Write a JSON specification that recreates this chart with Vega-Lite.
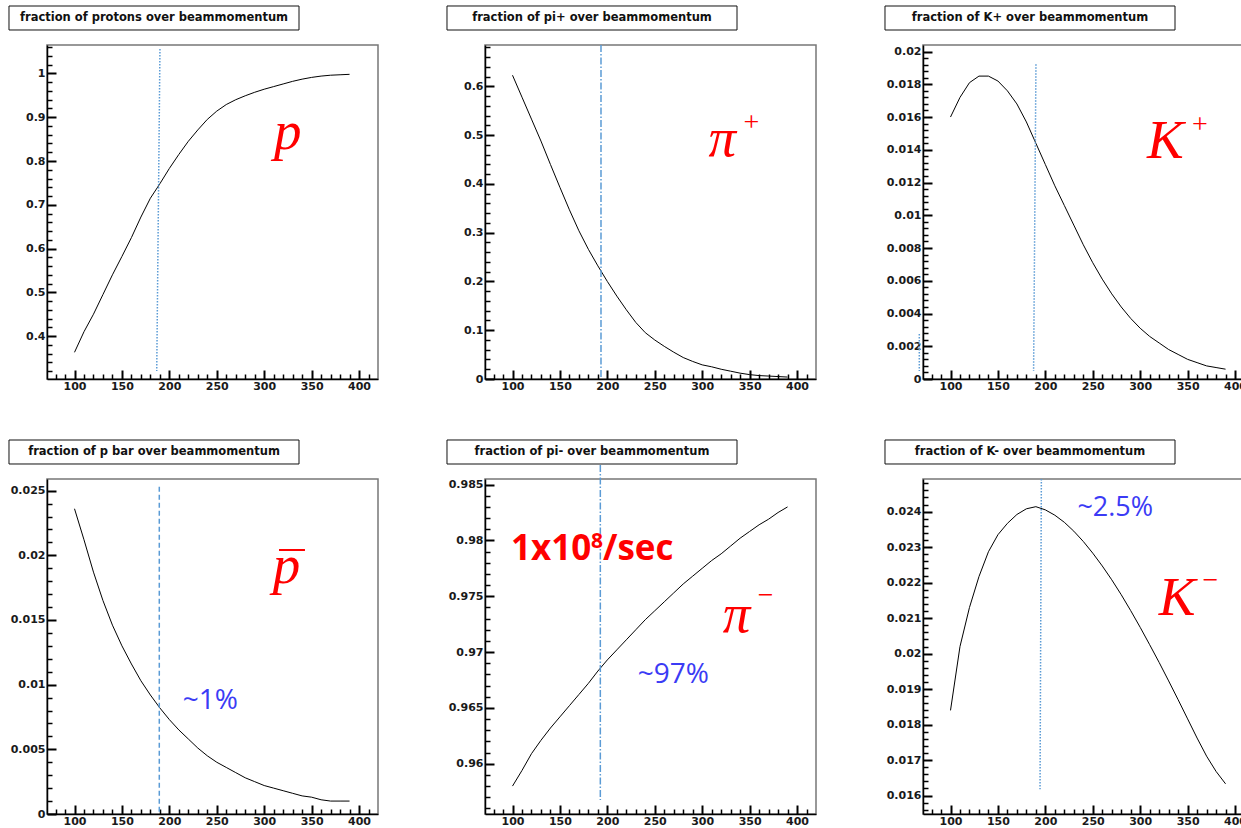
{
  "$schema": "https://vega.github.io/schema/vega-lite/v6.json",
  "padding": {"left": 7, "top": 4, "right": 0, "bottom": 0},
  "background": "white",
  "config": {
    "view": {"stroke": "#777", "strokeWidth": 1.5},
    "axis": {"grid": false}
  },
  "spacing": 46,
  "vconcat": [
    {
      "spacing": 66,
      "hconcat": [
        {
          "width": 331, "height": 334,
          "resolve": {"axis": {"x": "independent", "y": "independent"}},
          "layer": [
            {
              "data": {"values": [{"t": "fraction of protons over beammomentum", "x1": 30.93, "x2": 336.71, "xc": 183.82, "y1": 1.15409, "y2": 1.09927, "yc": 1.12668}]},
              "layer": [
                {"mark": {"type": "rect", "fill": "white", "stroke": "#111", "strokeWidth": 1, "clip": false},
                 "encoding": {"x": {"field": "x1", "type": "quantitative", "axis": null}, "x2": {"field": "x2"}, "y": {"field": "y1", "type": "quantitative", "axis": null}, "y2": {"field": "y2"}}},
                {"mark": {"type": "text", "font": "DejaVu Sans", "fontWeight": "bold", "fontSize": 11.5, "color": "#111", "clip": false},
                 "encoding": {"x": {"field": "xc", "type": "quantitative", "axis": null}, "y": {"field": "yc", "type": "quantitative", "axis": null}, "text": {"field": "t"}}}
              ]
            },
            {
              "data": {"values": [
                {"p":100,"f":0.363},{"p":110,"f":0.41},{"p":120,"f":0.45},{"p":130,"f":0.495},{"p":140,"f":0.54},
                {"p":150,"f":0.582},{"p":160,"f":0.625},{"p":170,"f":0.672},{"p":180,"f":0.715},{"p":190,"f":0.748},
                {"p":200,"f":0.783},{"p":210,"f":0.815},{"p":220,"f":0.845},{"p":230,"f":0.871},{"p":240,"f":0.895},
                {"p":250,"f":0.914},{"p":260,"f":0.929},{"p":270,"f":0.940},{"p":280,"f":0.949},{"p":290,"f":0.957},
                {"p":300,"f":0.964},{"p":310,"f":0.970},{"p":320,"f":0.976},{"p":330,"f":0.982},{"p":340,"f":0.987},
                {"p":350,"f":0.991},{"p":360,"f":0.994},{"p":370,"f":0.996},{"p":380,"f":0.997},{"p":390,"f":0.998}
              ]},
              "mark": {"type": "line", "color": "#000", "strokeWidth": 1},
              "encoding": {
                "x": {"field": "p", "type": "quantitative", "scale": {"domain": [71, 420], "nice": false, "zero": false},
                  "axis": {"orient": "bottom", "offset": -9, "values": [100,150,200,250,300,350,400], "title": null, "domain": false, "tickColor": "#000", "tickWidth": 2, "tickSize": 9, "labelPadding": 1, "labelFont": "DejaVu Sans", "labelFontWeight": "bold", "labelFontSize": 11, "labelColor": "#1a1a1a", "labelFlush": false, "labelOverlap": false}},
                "y": {"field": "f", "type": "quantitative", "scale": {"domain": [0.302, 1.065], "nice": false, "zero": false},
                  "axis": {"orient": "left", "offset": -9, "values": [0.4,0.5,0.6,0.7,0.8,0.9,1], "format": "~g", "title": null, "domain": false, "tickColor": "#000", "tickWidth": 2, "tickSize": 9, "labelPadding": 2, "labelFont": "DejaVu Sans", "labelFontWeight": "bold", "labelFontSize": 11, "labelColor": "#1a1a1a", "labelFlush": false, "labelOverlap": false, "minExtent": 46, "maxExtent": 46}}
              }
            },
            {
              "data": {"values": [{"x1": 190.1, "x2": 186.7, "y1": 1.0559, "y2": 0.3203}]},
              "mark": {"type": "rule", "color": "#5b9bd5", "strokeWidth": 1.5, "strokeDash": [1.5, 1.5], "clip": false},
              "encoding": {
                "x": {"field": "x1", "type": "quantitative", "axis": {"orient": "bottom", "offset": -5, "values": [80,90,110,120,130,140,160,170,180,190,210,220,230,240,260,270,280,290,310,320,330,340,360,370,380,390,410], "title": null, "domain": false, "labels": false, "tickColor": "#000", "tickWidth": 1.5, "tickSize": 5}},
                "x2": {"field": "x2"},
                "y": {"field": "y1", "type": "quantitative", "axis": {"orient": "left", "offset": -5, "values": [0.32,0.34,0.36,0.38,0.42,0.44,0.46,0.48,0.52,0.54,0.56,0.58,0.62,0.64,0.66,0.68,0.72,0.74,0.76,0.78,0.82,0.84,0.86,0.88,0.92,0.94,0.96,0.98,1.02,1.04,1.06], "title": null, "domain": false, "labels": false, "tickColor": "#000", "tickWidth": 1.5, "tickSize": 5, "minExtent": 0, "maxExtent": 0}},
                "y2": {"field": "y2"}
              }
            },
            {
              "data": {"values": [{"t": "p", "x": 310.4, "y": 0.8274}]},
              "mark": {"type": "text", "font": "Liberation Serif", "fontStyle": "italic", "fontSize": 55, "color": "#ff0000", "align": "left", "baseline": "alphabetic"},
              "encoding": {
                "x": {"field": "x", "type": "quantitative", "axis": {"orient": "bottom", "title": null, "ticks": false, "labels": false, "domainColor": "#000", "domainWidth": 1.5}},
                "y": {"field": "y", "type": "quantitative", "axis": {"orient": "left", "title": null, "ticks": false, "labels": false, "domainColor": "#000", "domainWidth": 1.5, "minExtent": 0, "maxExtent": 0}},
                "text": {"field": "t"}}
            }
          ]
        },
        {
          "width": 331, "height": 334,
          "resolve": {"axis": {"x": "independent", "y": "independent"}},
          "layer": [
            {
              "data": {"values": [{"t": "fraction of pi+ over beammomentum", "x1": 30.93, "x2": 336.71, "xc": 183.82, "y1": 0.76499, "y2": 0.71576, "yc": 0.74037}]},
              "layer": [
                {"mark": {"type": "rect", "fill": "white", "stroke": "#111", "strokeWidth": 1, "clip": false},
                 "encoding": {"x": {"field": "x1", "type": "quantitative", "axis": null}, "x2": {"field": "x2"}, "y": {"field": "y1", "type": "quantitative", "axis": null}, "y2": {"field": "y2"}}},
                {"mark": {"type": "text", "font": "DejaVu Sans", "fontWeight": "bold", "fontSize": 11.5, "color": "#111", "clip": false},
                 "encoding": {"x": {"field": "xc", "type": "quantitative", "axis": null}, "y": {"field": "yc", "type": "quantitative", "axis": null}, "text": {"field": "t"}}}
              ]
            },
            {
              "data": {"values": [
                {"p":100,"f":0.623},{"p":110,"f":0.578},{"p":120,"f":0.533},{"p":130,"f":0.488},{"p":140,"f":0.440},
                {"p":150,"f":0.393},{"p":160,"f":0.347},{"p":170,"f":0.304},{"p":180,"f":0.266},{"p":190,"f":0.232},
                {"p":200,"f":0.200},{"p":210,"f":0.170},{"p":220,"f":0.142},{"p":230,"f":0.116},{"p":240,"f":0.095},
                {"p":250,"f":0.080},{"p":260,"f":0.067},{"p":270,"f":0.055},{"p":280,"f":0.044},{"p":290,"f":0.036},
                {"p":300,"f":0.029},{"p":310,"f":0.025},{"p":320,"f":0.020},{"p":330,"f":0.016},{"p":340,"f":0.012},
                {"p":350,"f":0.009},{"p":360,"f":0.007},{"p":370,"f":0.006},{"p":380,"f":0.005},{"p":390,"f":0.004}
              ]},
              "mark": {"type": "line", "color": "#000", "strokeWidth": 1},
              "encoding": {
                "x": {"field": "p", "type": "quantitative", "scale": {"domain": [71, 420], "nice": false, "zero": false},
                  "axis": {"orient": "bottom", "offset": -9, "values": [100,150,200,250,300,350,400], "title": null, "domain": false, "tickColor": "#000", "tickWidth": 2, "tickSize": 9, "labelPadding": 1, "labelFont": "DejaVu Sans", "labelFontWeight": "bold", "labelFontSize": 11, "labelColor": "#1a1a1a", "labelFlush": false, "labelOverlap": false}},
                "y": {"field": "f", "type": "quantitative", "scale": {"domain": [0, 0.685], "nice": false, "zero": false},
                  "axis": {"orient": "left", "offset": -9, "values": [0,0.1,0.2,0.3,0.4,0.5,0.6], "format": "~g", "title": null, "domain": false, "tickColor": "#000", "tickWidth": 2, "tickSize": 9, "labelPadding": 2, "labelFont": "DejaVu Sans", "labelFontWeight": "bold", "labelFontSize": 11, "labelColor": "#1a1a1a", "labelFlush": false, "labelOverlap": false, "minExtent": 46, "maxExtent": 46}}
              }
            },
            {
              "data": {"values": [{"x1": 193.3, "x2": 193.3, "y1": 0.685, "y2": 0.002}]},
              "mark": {"type": "rule", "color": "#5b9bd5", "strokeWidth": 1.5, "strokeDash": [7, 2, 1.5, 2], "clip": false},
              "encoding": {
                "x": {"field": "x1", "type": "quantitative", "axis": {"orient": "bottom", "offset": -5, "values": [80,90,110,120,130,140,160,170,180,190,210,220,230,240,260,270,280,290,310,320,330,340,360,370,380,390,410], "title": null, "domain": false, "labels": false, "tickColor": "#000", "tickWidth": 1.5, "tickSize": 5}},
                "x2": {"field": "x2"},
                "y": {"field": "y1", "type": "quantitative", "axis": {"orient": "left", "offset": -5, "values": [0.02,0.04,0.06,0.08,0.12,0.14,0.16,0.18,0.22,0.24,0.26,0.28,0.32,0.34,0.36,0.38,0.42,0.44,0.46,0.48,0.52,0.54,0.56,0.58,0.62,0.64,0.66,0.68], "title": null, "domain": false, "labels": false, "tickColor": "#000", "tickWidth": 1.5, "tickSize": 5, "minExtent": 0, "maxExtent": 0}},
                "y2": {"field": "y2"}
              }
            },
            {
              "data": {"values": [{"t": "π", "x": 306.6, "y": 0.4574}]},
              "mark": {"type": "text", "font": "Liberation Serif", "fontStyle": "italic", "fontSize": 55, "color": "#ff0000", "align": "left", "baseline": "alphabetic"},
              "encoding": {
                "x": {"field": "x", "type": "quantitative", "axis": {"orient": "bottom", "title": null, "ticks": false, "labels": false, "domainColor": "#000", "domainWidth": 1.5}},
                "y": {"field": "y", "type": "quantitative", "axis": {"orient": "left", "title": null, "ticks": false, "labels": false, "domainColor": "#000", "domainWidth": 1.5, "minExtent": 0, "maxExtent": 0}},
                "text": {"field": "t"}}
            },
            {
              "data": {"values": [{"t": "+", "x": 343.5, "y": 0.5086}]},
              "mark": {"type": "text", "font": "Liberation Serif", "fontSize": 28, "color": "#ff0000", "align": "left", "baseline": "alphabetic"},
              "encoding": {"x": {"field": "x", "type": "quantitative", "axis": null}, "y": {"field": "y", "type": "quantitative", "axis": null}, "text": {"field": "t"}}
            }
          ]
        },
        {
          "width": 331, "height": 334,
          "resolve": {"axis": {"x": "independent", "y": "independent"}},
          "layer": [
            {
              "data": {"values": [{"t": "fraction of K+ over beammomentum", "x1": 30.93, "x2": 336.71, "xc": 183.82, "y1": 0.022782, "y2": 0.021316, "yc": 0.022049}]},
              "layer": [
                {"mark": {"type": "rect", "fill": "white", "stroke": "#111", "strokeWidth": 1, "clip": false},
                 "encoding": {"x": {"field": "x1", "type": "quantitative", "axis": null}, "x2": {"field": "x2"}, "y": {"field": "y1", "type": "quantitative", "axis": null}, "y2": {"field": "y2"}}},
                {"mark": {"type": "text", "font": "DejaVu Sans", "fontWeight": "bold", "fontSize": 11.5, "color": "#111", "clip": false},
                 "encoding": {"x": {"field": "xc", "type": "quantitative", "axis": null}, "y": {"field": "yc", "type": "quantitative", "axis": null}, "text": {"field": "t"}}}
              ]
            },
            {
              "data": {"values": [
                {"p":100,"f":0.0160},{"p":110,"f":0.0172},{"p":120,"f":0.0181},{"p":130,"f":0.0185},{"p":140,"f":0.0185},
                {"p":150,"f":0.0182},{"p":160,"f":0.0176},{"p":170,"f":0.0168},{"p":180,"f":0.0157},{"p":190,"f":0.0144},
                {"p":200,"f":0.0131},{"p":210,"f":0.0118},{"p":220,"f":0.0106},{"p":230,"f":0.0094},{"p":240,"f":0.0082},
                {"p":250,"f":0.0071},{"p":260,"f":0.0061},{"p":270,"f":0.0052},{"p":280,"f":0.0044},{"p":290,"f":0.0037},
                {"p":300,"f":0.0031},{"p":310,"f":0.0026},{"p":320,"f":0.0022},{"p":330,"f":0.0018},{"p":340,"f":0.0015},
                {"p":350,"f":0.0012},{"p":360,"f":0.0010},{"p":370,"f":0.0008},{"p":380,"f":0.0007},{"p":390,"f":0.0006}
              ]},
              "mark": {"type": "line", "color": "#000", "strokeWidth": 1},
              "encoding": {
                "x": {"field": "p", "type": "quantitative", "scale": {"domain": [71, 420], "nice": false, "zero": false},
                  "axis": {"orient": "bottom", "offset": -9, "values": [100,150,200,250,300,350,400], "title": null, "domain": false, "tickColor": "#000", "tickWidth": 2, "tickSize": 9, "labelPadding": 1, "labelFont": "DejaVu Sans", "labelFontWeight": "bold", "labelFontSize": 11, "labelColor": "#1a1a1a", "labelFlush": false, "labelOverlap": false}},
                "y": {"field": "f", "type": "quantitative", "scale": {"domain": [0, 0.0204], "nice": false, "zero": false},
                  "axis": {"orient": "left", "offset": -9, "values": [0,0.002,0.004,0.006,0.008,0.01,0.012,0.014,0.016,0.018,0.02], "format": "~g", "title": null, "domain": false, "tickColor": "#000", "tickWidth": 2, "tickSize": 9, "labelPadding": 2, "labelFont": "DejaVu Sans", "labelFontWeight": "bold", "labelFontSize": 11, "labelColor": "#1a1a1a", "labelFlush": false, "labelOverlap": false, "minExtent": 46, "maxExtent": 46}}
              }
            },
            {
              "data": {"values": [{"x1": 190.1, "x2": 187.6, "y1": 0.01922, "y2": 0.00049}, {"x1": 67.1, "x2": 67.1, "y1": 0.00275, "y2": 0.00049}]},
              "mark": {"type": "rule", "color": "#5b9bd5", "strokeWidth": 1.5, "strokeDash": [1.5, 1.5], "clip": false},
              "encoding": {
                "x": {"field": "x1", "type": "quantitative", "axis": {"orient": "bottom", "offset": -5, "values": [80,90,110,120,130,140,160,170,180,190,210,220,230,240,260,270,280,290,310,320,330,340,360,370,380,390,410], "title": null, "domain": false, "labels": false, "tickColor": "#000", "tickWidth": 1.5, "tickSize": 5}},
                "x2": {"field": "x2"},
                "y": {"field": "y1", "type": "quantitative", "axis": {"orient": "left", "offset": -5, "values": [0.0004,0.0008,0.0012,0.0016,0.0024,0.0028,0.0032,0.0036,0.0044,0.0048,0.0052,0.0056,0.0064,0.0068,0.0072,0.0076,0.0084,0.0088,0.0092,0.0096,0.0104,0.0108,0.0112,0.0116,0.0124,0.0128,0.0132,0.0136,0.0144,0.0148,0.0152,0.0156,0.0164,0.0168,0.0172,0.0176,0.0184,0.0188,0.0192,0.0196], "title": null, "domain": false, "labels": false, "tickColor": "#000", "tickWidth": 1.5, "tickSize": 5, "minExtent": 0, "maxExtent": 0}},
                "y2": {"field": "y2"}
              }
            },
            {
              "data": {"values": [{"t": "K", "x": 307.2, "y": 0.013517}]},
              "mark": {"type": "text", "font": "Liberation Serif", "fontStyle": "italic", "fontSize": 55, "color": "#ff0000", "align": "left", "baseline": "alphabetic"},
              "encoding": {
                "x": {"field": "x", "type": "quantitative", "axis": {"orient": "bottom", "title": null, "ticks": false, "labels": false, "domainColor": "#000", "domainWidth": 1.5}},
                "y": {"field": "y", "type": "quantitative", "axis": {"orient": "left", "title": null, "ticks": false, "labels": false, "domainColor": "#000", "domainWidth": 1.5, "minExtent": 0, "maxExtent": 0}},
                "text": {"field": "t"}}
            },
            {
              "data": {"values": [{"t": "+", "x": 354.6, "y": 0.015025}]},
              "mark": {"type": "text", "font": "Liberation Serif", "fontSize": 28, "color": "#ff0000", "align": "left", "baseline": "alphabetic"},
              "encoding": {"x": {"field": "x", "type": "quantitative", "axis": null}, "y": {"field": "y", "type": "quantitative", "axis": null}, "text": {"field": "t"}}
            }
          ]
        }
      ]
    },
    {
      "spacing": 66,
      "hconcat": [
        {
          "width": 331, "height": 335,
          "resolve": {"axis": {"x": "independent", "y": "independent"}},
          "layer": [
            {
              "data": {"values": [{"t": "fraction of p bar over beammomentum", "x1": 30.93, "x2": 336.71, "xc": 183.82, "y1": 0.028915, "y2": 0.02706, "yc": 0.027987}]},
              "layer": [
                {"mark": {"type": "rect", "fill": "white", "stroke": "#111", "strokeWidth": 1, "clip": false},
                 "encoding": {"x": {"field": "x1", "type": "quantitative", "axis": null}, "x2": {"field": "x2"}, "y": {"field": "y1", "type": "quantitative", "axis": null}, "y2": {"field": "y2"}}},
                {"mark": {"type": "text", "font": "DejaVu Sans", "fontWeight": "bold", "fontSize": 11.5, "color": "#111", "clip": false},
                 "encoding": {"x": {"field": "xc", "type": "quantitative", "axis": null}, "y": {"field": "yc", "type": "quantitative", "axis": null}, "text": {"field": "t"}}}
              ]
            },
            {
              "data": {"values": [
                {"p":100,"f":0.0236},{"p":110,"f":0.0212},{"p":120,"f":0.0187},{"p":130,"f":0.0165},{"p":140,"f":0.0146},
                {"p":150,"f":0.0130},{"p":160,"f":0.0116},{"p":170,"f":0.0103},{"p":180,"f":0.0092},{"p":190,"f":0.0082},
                {"p":200,"f":0.0073},{"p":210,"f":0.0065},{"p":220,"f":0.0058},{"p":230,"f":0.0051},{"p":240,"f":0.0045},
                {"p":250,"f":0.0040},{"p":260,"f":0.0036},{"p":270,"f":0.0032},{"p":280,"f":0.0028},{"p":290,"f":0.0025},
                {"p":300,"f":0.0022},{"p":310,"f":0.0020},{"p":320,"f":0.0018},{"p":330,"f":0.0016},{"p":340,"f":0.0014},
                {"p":350,"f":0.0013},{"p":360,"f":0.0011},{"p":370,"f":0.0010},{"p":380,"f":0.0010},{"p":390,"f":0.0010}
              ]},
              "mark": {"type": "line", "color": "#000", "strokeWidth": 1},
              "encoding": {
                "x": {"field": "p", "type": "quantitative", "scale": {"domain": [71, 420], "nice": false, "zero": false},
                  "axis": {"orient": "bottom", "offset": -9, "values": [100,150,200,250,300,350,400], "title": null, "domain": false, "tickColor": "#000", "tickWidth": 2, "tickSize": 9, "labelPadding": 1, "labelFont": "DejaVu Sans", "labelFontWeight": "bold", "labelFontSize": 11, "labelColor": "#1a1a1a", "labelFlush": false, "labelOverlap": false}},
                "y": {"field": "f", "type": "quantitative", "scale": {"domain": [0, 0.0259], "nice": false, "zero": false},
                  "axis": {"orient": "left", "offset": -9, "values": [0,0.005,0.01,0.015,0.02,0.025], "format": "~g", "title": null, "domain": false, "tickColor": "#000", "tickWidth": 2, "tickSize": 9, "labelPadding": 2, "labelFont": "DejaVu Sans", "labelFontWeight": "bold", "labelFontSize": 11, "labelColor": "#1a1a1a", "labelFlush": false, "labelOverlap": false, "minExtent": 46, "maxExtent": 46}}
              }
            },
            {
              "data": {"values": [{"x1": 189.4, "x2": 189.4, "y1": 0.025305, "y2": 0}]},
              "mark": {"type": "rule", "color": "#5b9bd5", "strokeWidth": 1.5, "strokeDash": [5, 3], "clip": false},
              "encoding": {
                "x": {"field": "x1", "type": "quantitative", "axis": {"orient": "bottom", "offset": -5, "values": [80,90,110,120,130,140,160,170,180,190,210,220,230,240,260,270,280,290,310,320,330,340,360,370,380,390,410], "title": null, "domain": false, "labels": false, "tickColor": "#000", "tickWidth": 1.5, "tickSize": 5}},
                "x2": {"field": "x2"},
                "y": {"field": "y1", "type": "quantitative", "axis": {"orient": "left", "offset": -5, "values": [0.001,0.002,0.003,0.004,0.006,0.007,0.008,0.009,0.011,0.012,0.013,0.014,0.016,0.017,0.018,0.019,0.021,0.022,0.023,0.024], "title": null, "domain": false, "labels": false, "tickColor": "#000", "tickWidth": 1.5, "tickSize": 5, "minExtent": 0, "maxExtent": 0}},
                "y2": {"field": "y2"}
              }
            },
            {
              "data": {"values": [{"x1": 315.6, "x2": 343.0, "y1": 0.02041}]},
              "mark": {"type": "rule", "color": "#ff0000", "strokeWidth": 2},
              "encoding": {"x": {"field": "x1", "type": "quantitative", "axis": null}, "x2": {"field": "x2"}, "y": {"field": "y1", "type": "quantitative", "axis": null}}
            },
            {
              "data": {"values": [{"t": "p", "x": 309, "y": 0.017882}]},
              "mark": {"type": "text", "font": "Liberation Serif", "fontStyle": "italic", "fontSize": 55, "color": "#ff0000", "align": "left", "baseline": "alphabetic"},
              "encoding": {
                "x": {"field": "x", "type": "quantitative", "axis": {"orient": "bottom", "title": null, "ticks": false, "labels": false, "domainColor": "#000", "domainWidth": 1.5}},
                "y": {"field": "y", "type": "quantitative", "axis": {"orient": "left", "title": null, "ticks": false, "labels": false, "domainColor": "#000", "domainWidth": 1.5, "minExtent": 0, "maxExtent": 0}},
                "text": {"field": "t"}}
            },
            {
              "data": {"values": [{"t": "~1%", "x": 214.1, "y": 0.008094}]},
              "mark": {"type": "text", "font": "Open Sans", "fontSize": 28, "color": "#3b3bf5", "align": "left", "baseline": "alphabetic"},
              "encoding": {"x": {"field": "x", "type": "quantitative", "axis": null}, "y": {"field": "y", "type": "quantitative", "axis": null}, "text": {"field": "t"}}
            }
          ]
        },
        {
          "width": 331, "height": 335,
          "resolve": {"axis": {"x": "independent", "y": "independent"}},
          "layer": [
            {
              "data": {"values": [{"t": "fraction of pi- over beammomentum", "x1": 30.93, "x2": 336.71, "xc": 183.82, "y1": 0.988993, "y2": 0.986843, "yc": 0.987918}]},
              "layer": [
                {"mark": {"type": "rect", "fill": "white", "stroke": "#111", "strokeWidth": 1, "clip": false},
                 "encoding": {"x": {"field": "x1", "type": "quantitative", "axis": null}, "x2": {"field": "x2"}, "y": {"field": "y1", "type": "quantitative", "axis": null}, "y2": {"field": "y2"}}},
                {"mark": {"type": "text", "font": "DejaVu Sans", "fontWeight": "bold", "fontSize": 11.5, "color": "#111", "clip": false},
                 "encoding": {"x": {"field": "xc", "type": "quantitative", "axis": null}, "y": {"field": "yc", "type": "quantitative", "axis": null}, "text": {"field": "t"}}}
              ]
            },
            {
              "data": {"values": [
                {"p":100,"f":0.9580},{"p":110,"f":0.9594},{"p":120,"f":0.9609},{"p":130,"f":0.9621},{"p":140,"f":0.9632},
                {"p":150,"f":0.9642},{"p":160,"f":0.9652},{"p":170,"f":0.9662},{"p":180,"f":0.9672},{"p":190,"f":0.9683},
                {"p":200,"f":0.9693},{"p":210,"f":0.9702},{"p":220,"f":0.9711},{"p":230,"f":0.9720},{"p":240,"f":0.9729},
                {"p":250,"f":0.9737},{"p":260,"f":0.9745},{"p":270,"f":0.9753},{"p":280,"f":0.9761},{"p":290,"f":0.9768},
                {"p":300,"f":0.9775},{"p":310,"f":0.9782},{"p":320,"f":0.9788},{"p":330,"f":0.9795},{"p":340,"f":0.9802},
                {"p":350,"f":0.9808},{"p":360,"f":0.9814},{"p":370,"f":0.9819},{"p":380,"f":0.9825},{"p":390,"f":0.9830}
              ]},
              "mark": {"type": "line", "color": "#000", "strokeWidth": 1},
              "encoding": {
                "x": {"field": "p", "type": "quantitative", "scale": {"domain": [71, 420], "nice": false, "zero": false},
                  "axis": {"orient": "bottom", "offset": -9, "values": [100,150,200,250,300,350,400], "title": null, "domain": false, "tickColor": "#000", "tickWidth": 2, "tickSize": 9, "labelPadding": 1, "labelFont": "DejaVu Sans", "labelFontWeight": "bold", "labelFontSize": 11, "labelColor": "#1a1a1a", "labelFlush": false, "labelOverlap": false}},
                "y": {"field": "f", "type": "quantitative", "scale": {"domain": [0.9555, 0.9855], "nice": false, "zero": false},
                  "axis": {"orient": "left", "offset": -9, "values": [0.96,0.965,0.97,0.975,0.98,0.985], "format": "~g", "title": null, "domain": false, "tickColor": "#000", "tickWidth": 2, "tickSize": 9, "labelPadding": 2, "labelFont": "DejaVu Sans", "labelFontWeight": "bold", "labelFontSize": 11, "labelColor": "#1a1a1a", "labelFlush": false, "labelOverlap": false, "minExtent": 46, "maxExtent": 46}}
              }
            },
            {
              "data": {"values": [{"x1": 192.6, "x2": 192.6, "y1": 0.98675, "y2": 0.95675}]},
              "mark": {"type": "rule", "color": "#5b9bd5", "strokeWidth": 1.5, "strokeDash": [7, 2, 1.5, 2], "clip": false},
              "encoding": {
                "x": {"field": "x1", "type": "quantitative", "axis": {"orient": "bottom", "offset": -5, "values": [80,90,110,120,130,140,160,170,180,190,210,220,230,240,260,270,280,290,310,320,330,340,360,370,380,390,410], "title": null, "domain": false, "labels": false, "tickColor": "#000", "tickWidth": 1.5, "tickSize": 5}},
                "x2": {"field": "x2"},
                "y": {"field": "y1", "type": "quantitative", "axis": {"orient": "left", "offset": -5, "values": [0.956,0.957,0.958,0.959,0.961,0.962,0.963,0.964,0.966,0.967,0.968,0.969,0.971,0.972,0.973,0.974,0.976,0.977,0.978,0.979,0.981,0.982,0.983,0.984], "title": null, "domain": false, "labels": false, "tickColor": "#000", "tickWidth": 1.5, "tickSize": 5, "minExtent": 0, "maxExtent": 0}},
                "y2": {"field": "y2"}
              }
            },
            {
              "data": {"values": [{"t": "1x10", "x": 98.4, "y": 0.978246}, {"t": "/sec", "x": 195.4, "y": 0.978246}]},
              "mark": {"type": "text", "font": "Open Sans", "fontWeight": "bold", "fontSize": 35, "color": "#ff0000", "align": "left", "baseline": "alphabetic"},
              "encoding": {
                "x": {"field": "x", "type": "quantitative", "axis": {"orient": "bottom", "title": null, "ticks": false, "labels": false, "domainColor": "#000", "domainWidth": 1.5}},
                "y": {"field": "y", "type": "quantitative", "axis": {"orient": "left", "title": null, "ticks": false, "labels": false, "domainColor": "#000", "domainWidth": 1.5, "minExtent": 0, "maxExtent": 0}},
                "text": {"field": "t"}}
            },
            {
              "data": {"values": [{"t": "8", "x": 182.7, "y": 0.979294}]},
              "mark": {"type": "text", "font": "Open Sans", "fontWeight": "bold", "fontSize": 21, "color": "#ff0000", "align": "left", "baseline": "alphabetic"},
              "encoding": {"x": {"field": "x", "type": "quantitative", "axis": null}, "y": {"field": "y", "type": "quantitative", "axis": null}, "text": {"field": "t"}}
            },
            {
              "data": {"values": [{"t": "π", "x": 321.6, "y": 0.971825}]},
              "mark": {"type": "text", "font": "Liberation Serif", "fontStyle": "italic", "fontSize": 55, "color": "#ff0000", "align": "left", "baseline": "alphabetic"},
              "encoding": {"x": {"field": "x", "type": "quantitative", "axis": null}, "y": {"field": "y", "type": "quantitative", "axis": null}, "text": {"field": "t"}}
            },
            {
              "data": {"values": [{"t": "−", "x": 358.5, "y": 0.974306}]},
              "mark": {"type": "text", "font": "Liberation Serif", "fontSize": 28, "color": "#ff0000", "align": "left", "baseline": "alphabetic"},
              "encoding": {"x": {"field": "x", "type": "quantitative", "axis": null}, "y": {"field": "y", "type": "quantitative", "axis": null}, "text": {"field": "t"}}
            },
            {
              "data": {"values": [{"t": "~97%", "x": 232, "y": 0.967232}]},
              "mark": {"type": "text", "font": "Open Sans", "fontSize": 28, "color": "#3b3bf5", "align": "left", "baseline": "alphabetic"},
              "encoding": {"x": {"field": "x", "type": "quantitative", "axis": null}, "y": {"field": "y", "type": "quantitative", "axis": null}, "text": {"field": "t"}}
            }
          ]
        },
        {
          "width": 331, "height": 335,
          "resolve": {"axis": {"x": "independent", "y": "independent"}},
          "layer": [
            {
              "data": {"values": [{"t": "fraction of K- over beammomentum", "x1": 30.93, "x2": 336.71, "xc": 183.82, "y1": 0.026019, "y2": 0.025343, "yc": 0.025681}]},
              "layer": [
                {"mark": {"type": "rect", "fill": "white", "stroke": "#111", "strokeWidth": 1, "clip": false},
                 "encoding": {"x": {"field": "x1", "type": "quantitative", "axis": null}, "x2": {"field": "x2"}, "y": {"field": "y1", "type": "quantitative", "axis": null}, "y2": {"field": "y2"}}},
                {"mark": {"type": "text", "font": "DejaVu Sans", "fontWeight": "bold", "fontSize": 11.5, "color": "#111", "clip": false},
                 "encoding": {"x": {"field": "xc", "type": "quantitative", "axis": null}, "y": {"field": "yc", "type": "quantitative", "axis": null}, "text": {"field": "t"}}}
              ]
            },
            {
              "data": {"values": [
                {"p":100,"f":0.0184},{"p":110,"f":0.0202},{"p":120,"f":0.0213},{"p":130,"f":0.02217},{"p":140,"f":0.02287},
                {"p":150,"f":0.02335},{"p":160,"f":0.02367},{"p":170,"f":0.02392},{"p":180,"f":0.02408},{"p":190,"f":0.02414},
                {"p":200,"f":0.02405},{"p":210,"f":0.0239},{"p":220,"f":0.0237},{"p":230,"f":0.02345},{"p":240,"f":0.02316},
                {"p":250,"f":0.02283},{"p":260,"f":0.02247},{"p":270,"f":0.02208},{"p":280,"f":0.02166},{"p":290,"f":0.02121},
                {"p":300,"f":0.02074},{"p":310,"f":0.02025},{"p":320,"f":0.01975},{"p":330,"f":0.01923},{"p":340,"f":0.0187},
                {"p":350,"f":0.01816},{"p":360,"f":0.01762},{"p":370,"f":0.01711},{"p":380,"f":0.01668},{"p":390,"f":0.01633}
              ]},
              "mark": {"type": "line", "color": "#000", "strokeWidth": 1},
              "encoding": {
                "x": {"field": "p", "type": "quantitative", "scale": {"domain": [71, 420], "nice": false, "zero": false},
                  "axis": {"orient": "bottom", "offset": -9, "values": [100,150,200,250,300,350,400], "title": null, "domain": false, "tickColor": "#000", "tickWidth": 2, "tickSize": 9, "labelPadding": 1, "labelFont": "DejaVu Sans", "labelFontWeight": "bold", "labelFontSize": 11, "labelColor": "#1a1a1a", "labelFlush": false, "labelOverlap": false}},
                "y": {"field": "f", "type": "quantitative", "scale": {"domain": [0.01548, 0.02492], "nice": false, "zero": false},
                  "axis": {"orient": "left", "offset": -9, "values": [0.016,0.017,0.018,0.019,0.02,0.021,0.022,0.023,0.024], "format": "~g", "title": null, "domain": false, "tickColor": "#000", "tickWidth": 2, "tickSize": 9, "labelPadding": 2, "labelFont": "DejaVu Sans", "labelFontWeight": "bold", "labelFontSize": 11, "labelColor": "#1a1a1a", "labelFlush": false, "labelOverlap": false, "minExtent": 46, "maxExtent": 46}}
              }
            },
            {
              "data": {"values": [{"x1": 195.8, "x2": 194.4, "y1": 0.02492, "y2": 0.01618}]},
              "mark": {"type": "rule", "color": "#5b9bd5", "strokeWidth": 1.5, "strokeDash": [1.5, 1.5], "clip": false},
              "encoding": {
                "x": {"field": "x1", "type": "quantitative", "axis": {"orient": "bottom", "offset": -5, "values": [80,90,110,120,130,140,160,170,180,190,210,220,230,240,260,270,280,290,310,320,330,340,360,370,380,390,410], "title": null, "domain": false, "labels": false, "tickColor": "#000", "tickWidth": 1.5, "tickSize": 5}},
                "x2": {"field": "x2"},
                "y": {"field": "y1", "type": "quantitative", "axis": {"orient": "left", "offset": -5, "values": [0.0156,0.0158,0.0162,0.0164,0.0166,0.0168,0.0172,0.0174,0.0176,0.0178,0.0182,0.0184,0.0186,0.0188,0.0192,0.0194,0.0196,0.0198,0.0202,0.0204,0.0206,0.0208,0.0212,0.0214,0.0216,0.0218,0.0222,0.0224,0.0226,0.0228,0.0232,0.0234,0.0236,0.0238,0.0242,0.0244,0.0246,0.0248], "title": null, "domain": false, "labels": false, "tickColor": "#000", "tickWidth": 1.5, "tickSize": 5, "minExtent": 0, "maxExtent": 0}},
                "y2": {"field": "y2"}
              }
            },
            {
              "data": {"values": [{"t": "K", "x": 319.5, "y": 0.021089}]},
              "mark": {"type": "text", "font": "Liberation Serif", "fontStyle": "italic", "fontSize": 55, "color": "#ff0000", "align": "left", "baseline": "alphabetic"},
              "encoding": {
                "x": {"field": "x", "type": "quantitative", "axis": {"orient": "bottom", "title": null, "ticks": false, "labels": false, "domainColor": "#000", "domainWidth": 1.5}},
                "y": {"field": "y", "type": "quantitative", "axis": {"orient": "left", "title": null, "ticks": false, "labels": false, "domainColor": "#000", "domainWidth": 1.5, "minExtent": 0, "maxExtent": 0}},
                "text": {"field": "t"}}
            },
            {
              "data": {"values": [{"t": "−", "x": 365.6, "y": 0.021821}]},
              "mark": {"type": "text", "font": "Liberation Serif", "fontSize": 28, "color": "#ff0000", "align": "left", "baseline": "alphabetic"},
              "encoding": {"x": {"field": "x", "type": "quantitative", "axis": null}, "y": {"field": "y", "type": "quantitative", "axis": null}, "text": {"field": "t"}}
            },
            {
              "data": {"values": [{"t": "~2.5%", "x": 233.8, "y": 0.023878}]},
              "mark": {"type": "text", "font": "Open Sans", "fontSize": 27, "color": "#3b3bf5", "align": "left", "baseline": "alphabetic"},
              "encoding": {"x": {"field": "x", "type": "quantitative", "axis": null}, "y": {"field": "y", "type": "quantitative", "axis": null}, "text": {"field": "t"}}
            }
          ]
        }
      ]
    }
  ]
}
